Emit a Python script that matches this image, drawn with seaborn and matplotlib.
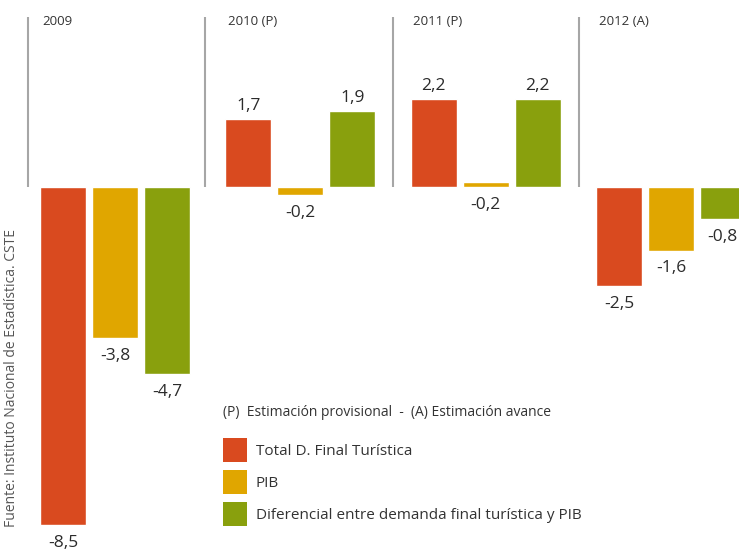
import matplotlib
matplotlib.use("Agg")
import matplotlib.pyplot as plt
import seaborn as sns
import pandas as pd
from matplotlib.patches import Patch

# ---- data ----
years = ["2009", "2010 (P)", "2011 (P)", "2012 (A)"]
series = ["Total D. Final Turística", "PIB",
          "Diferencial entre demanda final turística y PIB"]
total_vals = [-8.5, 1.7, 2.2, -2.5]
pib_vals = [-3.8, -0.2, 0.12, -1.6]          # 2011 bar drawn just above zero
dif_vals = [-4.7, 1.9, 2.2, -0.8]
total_labels = ["-8,5", "1,7", "2,2", "-2,5"]
pib_labels = ["-3,8", "-0,2", "-0,2", "-1,6"]
dif_labels = ["-4,7", "1,9", "2,2", "-0,8"]
colors = ["#D94A1F", "#E0A600", "#89A00D"]
note = "(P)  Estimación provisional  -  (A) Estimación avance"
source = "Fuente: Instituto Nacional de Estadística. CSTE"

sns.set_style("white")
plt.rcParams["font.family"] = ["Open Sans", "DejaVu Sans"]

df = pd.DataFrame({
    "year": years * 3,
    "serie": [series[0]] * 4 + [series[1]] * 4 + [series[2]] * 4,
    "value": total_vals + pib_vals + dif_vals,
})
labels_all = [total_labels, pib_labels, dif_labels]

fig = plt.figure(figsize=(7.39, 5.54), dpi=100)
ax = fig.add_axes([0, 0, 1, 1])

sns.barplot(data=df, x="year", y="value", hue="serie", order=years,
            hue_order=series, palette=colors, width=0.841, gap=0.115,
            saturation=1, legend=False, ax=ax, errorbar=None)

# value labels
for s_idx, cont in enumerate(ax.containers):
    for i, bar in enumerate(cont):
        lab = labels_all[s_idx][i]
        xc = bar.get_x() + bar.get_width() / 2
        h = bar.get_height()
        if lab.startswith("-"):
            y = min(h, 0)
            ax.annotate(lab, (xc, y), xytext=(0, -7), textcoords="offset points",
                        ha="center", va="top", fontsize=12.5, color="#2b2b2b")
        else:
            y = max(h, 0)
            ax.annotate(lab, (xc, y), xytext=(0, 4), textcoords="offset points",
                        ha="center", va="bottom", fontsize=12.5, color="#2b2b2b")

# group separators and year labels
sep_x = [-0.47, 0.488, 1.498, 2.502]
ax.vlines(sep_x, 0, 4.27, color="#a6a6a6", lw=1.5)
for i, yr in enumerate(years):
    ax.text(i - 0.39, 4.17, yr, ha="left", va="center", fontsize=9.5,
            color="#333333")

ax.set_xlim(-0.6206, 3.3675)
ax.set_ylim(-9.221, 4.698)
ax.set_axis_off()

# legend
handles = [Patch(facecolor=c, edgecolor="none") for c in colors]
leg = ax.legend(handles, series, title=note, loc="upper left",
                bbox_to_anchor=(223 / 739, 1 - 405 / 554),
                bbox_transform=fig.transFigure, frameon=False,
                fontsize=11, title_fontsize=10, borderpad=0,
                handlelength=1.55, handleheight=2.05, handletextpad=0.6,
                labelspacing=0.52, borderaxespad=0)
leg._legend_box.align = "left"
leg._legend_box.sep = 13
for t in leg.get_texts():
    t.set_color("#333333")
leg.get_title().set_color("#333333")

fig.text(12 / 739, 1 - 378 / 554, source, rotation=90, ha="center",
         va="center", fontsize=10, color="#555555")

fig.savefig("out.png", dpi=100)
